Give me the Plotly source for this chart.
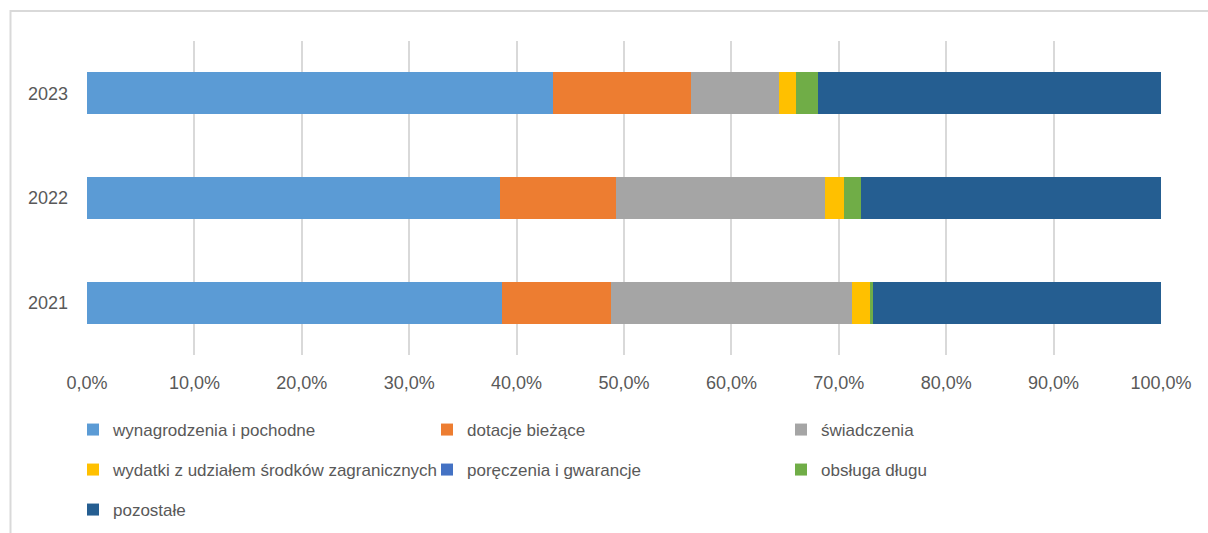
import plotly.graph_objects as go

years = ["2021", "2022", "2023"]
series_names = [
    "wynagrodzenia i pochodne",
    "dotacje bieżące",
    "świadczenia",
    "wydatki z udziałem środków zagranicznych",
    "poręczenia i gwarancje",
    "obsługa długu",
    "pozostałe",
]
wynagrodzenia = [38.6, 38.5, 43.4]
dotacje = [10.2, 10.8, 12.8]
swiadczenia = [22.4, 19.4, 8.2]
wydatki_zagr = [1.7, 1.8, 1.6]
poreczenia = [0.0, 0.0, 0.0]
obsluga = [0.3, 1.6, 2.1]
pozostale = [26.8, 27.9, 31.9]

values = [wynagrodzenia, dotacje, swiadczenia, wydatki_zagr, poreczenia, obsluga, pozostale]
colors = ["#5B9BD5", "#ED7D31", "#A5A5A5", "#FFC000", "#4472C4", "#70AD47", "#255E91"]
legend_ids = ["legend", "legend", "legend", "legend2", "legend2", "legend2", "legend3"]

tick_vals = [0, 10, 20, 30, 40, 50, 60, 70, 80, 90, 100]
tick_text = ["0,0%", "10,0%", "20,0%", "30,0%", "40,0%", "50,0%", "60,0%", "70,0%", "80,0%", "90,0%", "100,0%"]

FONT = "Liberation Sans, Arial, sans-serif"
TXT = "#595959"

fig = go.Figure()
for name, vals, col, lg in zip(series_names, values, colors, legend_ids):
    fig.add_trace(go.Bar(
        y=years, x=vals, name=name, orientation="h",
        marker=dict(color=col, line=dict(width=0)),
        legend=lg,
    ))

W, Hh = 1208.0, 533.0
leg_common = dict(
    orientation="h", xref="container", yref="container",
    xanchor="left", yanchor="middle",
    font=dict(family=FONT, size=17, color=TXT),
    entrywidth=309, entrywidthmode="pixels",
    itemwidth=30, bgcolor="rgba(0,0,0,0)", traceorder="normal",
    borderwidth=0,
)

def cy(pix):
    return (Hh - pix) / Hh

PH = 314.0
def py(pix):
    return (355 - pix) / PH

fig.update_layout(
    barmode="stack",
    bargap=0.6,
    width=1208, height=533,
    margin=dict(l=87, r=47, t=41, b=178, autoexpand=False),
    paper_bgcolor="white", plot_bgcolor="white",
    font=dict(family=FONT, size=18, color=TXT),
    xaxis=dict(
        range=[0, 100], tickvals=tick_vals, ticktext=tick_text,
        showgrid=True, gridcolor="#D9D9D9", gridwidth=2,
        zeroline=False, showline=False, ticks="",
        ticklabelstandoff=15,
        tickfont=dict(family=FONT, size=18, color=TXT),
    ),
    yaxis=dict(
        showgrid=False, zeroline=False, showline=False, ticks="",
        ticklabelstandoff=18,
        tickfont=dict(family=FONT, size=18, color=TXT),
    ),
    legend=dict(x=73 / W, y=cy(430), **leg_common),
    legend2=dict(x=73 / W, y=cy(470), **leg_common),
    legend3=dict(x=73 / W, y=cy(510), **leg_common),
    showlegend=True,
    shapes=[dict(
        type="rect", xref="paper", yref="paper",
        x0=(10.5 - 87) / 1074, x1=1.2, y0=-0.7, y1=py(11),
        line=dict(color="#D9D9D9", width=2), fillcolor="rgba(0,0,0,0)", layer="below",
    )],
)

fig.write_html("out.html", config={"displayModeBar": False},
               post_script="document.body.style.margin='0px';")
